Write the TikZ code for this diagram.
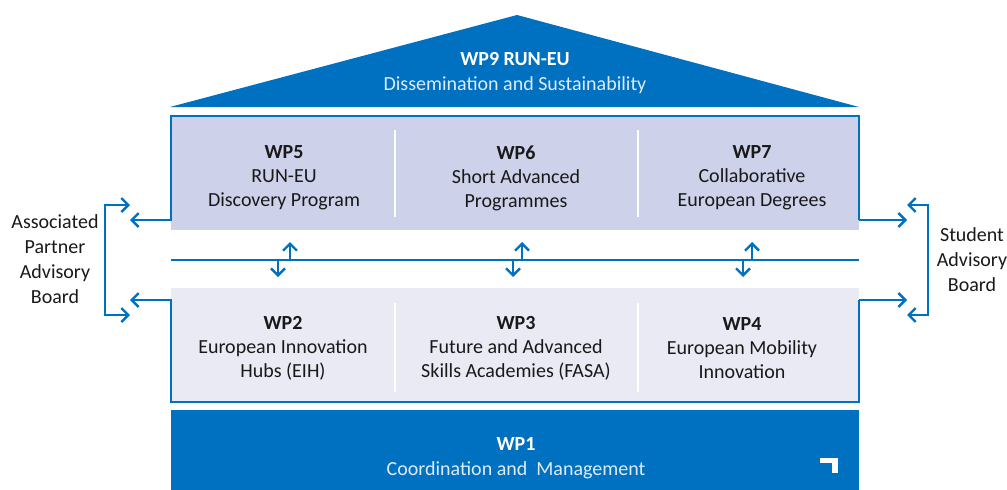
\documentclass[tikz,border=0pt]{standalone}
\usepackage{fontspec}
\setmainfont{Carlito}
\usetikzlibrary{arrows.meta}
\definecolor{runblue}{RGB}{0,112,192}
\definecolor{upfill}{RGB}{205,209,234}
\definecolor{lowfill}{RGB}{233,234,244}
\definecolor{paletxt}{RGB}{222,235,247}
\definecolor{darktxt}{RGB}{25,25,25}
\tikzset{
  conn/.style={draw=runblue, line width=2.4pt},
  tipped/.style={conn, -{Straight Barb[length=7pt,width=14pt,line width=2.4pt]}},
  wptext/.style={align=center, text=darktxt, font=\fontsize{20}{24}\selectfont, inner sep=0pt},
  whitetext/.style={align=center, text=white, font=\fontsize{20}{24.5}\selectfont, inner sep=0pt},
  boardtext/.style={align=center, text=darktxt, font=\fontsize{20}{25}\selectfont, inner sep=0pt},
  divider/.style={draw=white, line width=2pt},
}
\begin{document}
\begin{tikzpicture}[x=1pt,y=-1pt]
\useasboundingbox (0,0) rectangle (1007,490);
% roof
\fill[runblue] (170,107) -- (517,15) -- (859,107) -- cycle;
\node[whitetext] (wp9) at (515,73) {\textbf{WP9 RUN-EU}\\\textcolor{paletxt}{Dissemination and Sustainability}};
% upper box
\fill[upfill] (171,116) rectangle (859,230);
\draw[divider] (395,130) -- (395,217);
\draw[divider] (638,130) -- (638,217);
\coordinate (ul) at (171,220);
\coordinate (ur) at (859,220);
% lower box
\fill[lowfill] (171,288) rectangle (859,402);
\draw[divider] (395,303) -- (395,392);
\draw[divider] (638,303) -- (638,392);
\coordinate (ll) at (171,300);
\coordinate (lr) at (859,300);
% WP1
\fill[runblue] (171,410) rectangle (859,490);
\fill[white] (820,458) rectangle (838,463);
\fill[white] (832,458) rectangle (838,473);
\node[whitetext] (wp1) at (516,458) {\textbf{WP1}\\\textcolor{paletxt}{Coordination and\ \ Management}};
% texts
\node[wptext] (wp5) at (284,178) {\textbf{WP5}\\RUN-EU\\Discovery Program};
\node[wptext] (wp6) at (516,178) {\textbf{WP6}\\Short Advanced\\Programmes};
\node[wptext] (wp7) at (752,178) {\textbf{WP7}\\Collaborative\\European Degrees};
\node[wptext] (wp2) at (283,348) {\textbf{WP2}\\European Innovation\\Hubs (EIH)};
\node[wptext] (wp3) at (516,348) {\textbf{WP3}\\Future and Advanced\\Skills Academies (FASA)};
\node[wptext] (wp4) at (742,348) {\textbf{WP4}\\European Mobility\\Innovation};
\node[boardtext] (apab) at (55,259) {Associated\\Partner\\Advisory\\Board};
\node[boardtext] (sab) at (972,260) {Student\\Advisory\\Board};
% outlines
\coordinate (lt) at (130,220);
\coordinate (lb) at (130,300);
\coordinate (rt) at (907,220);
\coordinate (rb) at (907,300);
\draw[tipped] (ur) -- (859,116) -- (171,116) -- (ul) -- (lt);
\draw[tipped] (ur) -- (rt);
\draw[tipped] (lr) -- (859,402) -- (171,402) -- (ll) -- (lb);
\draw[tipped] (lr) -- (rb);
% brackets
\coordinate (lbt) at (105,205);
\coordinate (lbb) at (105,315);
\draw[tipped] (lbb) -- (lbt) -- (130,205);
\draw[tipped] (lbt) -- (lbb) -- (130,315);
\coordinate (rbt) at (928,205);
\coordinate (rbb) at (928,315);
\draw[tipped] (rbb) -- (rbt) -- (907,205);
\draw[tipped] (rbt) -- (rbb) -- (907,315);
% middle line and arrows
\coordinate (ml) at (171,260);
\coordinate (mr) at (859,260);
\draw[conn] (ml) -- (mr);
\foreach \u/\d in {290/278, 522/513, 752/743}{
  \draw[tipped] (\u,260) -- (\u,242);
  \draw[tipped] (\d,260) -- (\d,277);
}
\end{tikzpicture}
\end{document}
